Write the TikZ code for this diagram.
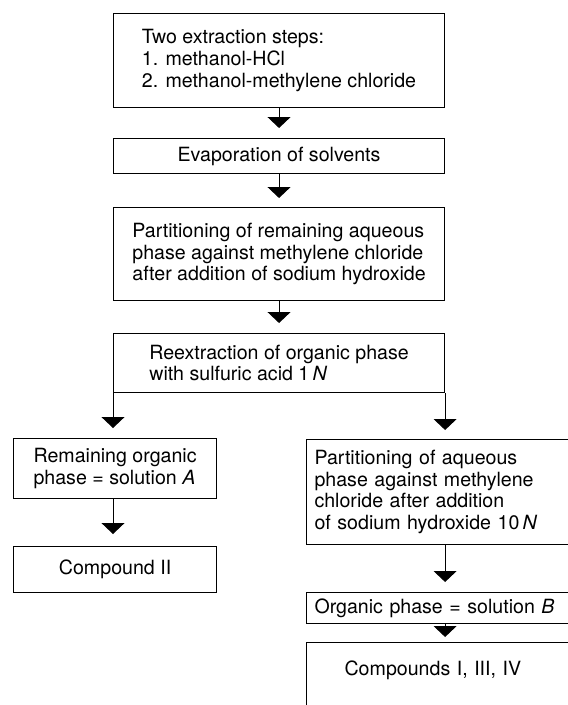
\documentclass[tikz,border=0pt]{standalone}
\usepackage{fontspec}
\setmainfont{TeX Gyre Heros}
\usetikzlibrary{arrows.meta}
\begin{document}
\begin{tikzpicture}[x=1pt,y=1pt,
  box/.style={draw=black, line width=1.1pt, align=left, inner sep=0pt,
    font=\fontsize{19.6}{21.6}\selectfont, anchor=north west},
  rbox/.style={box, text width=260pt, inner xsep=8pt},
  flow/.style={draw=black, line width=1pt, -{Triangle[width=23pt,length=11pt]}}]
\path[use as bounding box] (0,0) rectangle (568,-705);
\clip (0,0) rectangle (568,-705);
\node[box, minimum width=331pt, minimum height=94pt] (b1) at (113,-13)
  {Two extraction steps:\\1. methanol-HCl\\2. methanol-methylene chloride};
\node[box, minimum width=331pt, minimum height=35pt] (b2) at (113,-138)
  {Evaporation of solvents};
\node[box, minimum width=331pt, minimum height=93pt] (b3) at (113,-207)
  {Partitioning of remaining aqueous\\phase against methylene chloride\\after addition of sodium hydroxide};
\node[box, minimum width=331pt, minimum height=59pt] (b4) at (113,-333)
  {Reextraction of organic phase\\with sulfuric acid 1\,{\itshape N}};
\node[box, minimum width=203pt, minimum height=60pt] (bA) at (13,-438)
  {Remaining organic\\phase = solution {\itshape A}};
\node[box, minimum width=203pt, minimum height=46pt] (bC2) at (13,-546)
  {Compound II};
\node[rbox, minimum height=105pt] (bR) at (306,-439)
  {Partitioning of aqueous\\phase against methylene\\chloride after addition\\of sodium hydroxide 10\,{\itshape N}};
\node[rbox, minimum height=31pt] (bB) at (306,-592)
  {Organic phase = solution {\itshape B}};
\node[box, text width=200pt, inner xsep=38pt, text height=33pt, text depth=60pt] (bC) at (306,-642)
  {Compounds I, III, IV};
\draw[flow] (b1.south) -- ([yshift=10pt]b2.north);
\draw[flow] (b2.south) -- ([yshift=9pt]b3.north);
\draw[flow] (b3.south) -- ([yshift=10pt]b4.north);
\draw[flow] (b4.south west) -- ([yshift=10pt]bA.north -| b4.south west);
\draw[flow] (b4.south east) -- ([yshift=9pt]bR.north -| b4.south east);
\draw[flow] (bA.south -| b4.south west) -- ([yshift=12pt]bC2.north -| b4.south west);
\draw[flow] (bR.south -| b4.south east) -- ([yshift=10pt]bB.north -| b4.south east);
\draw[flow] (bB.south -| b4.south east) -- ([yshift=5pt]bC.north -| b4.south east);
\end{tikzpicture}
\end{document}
